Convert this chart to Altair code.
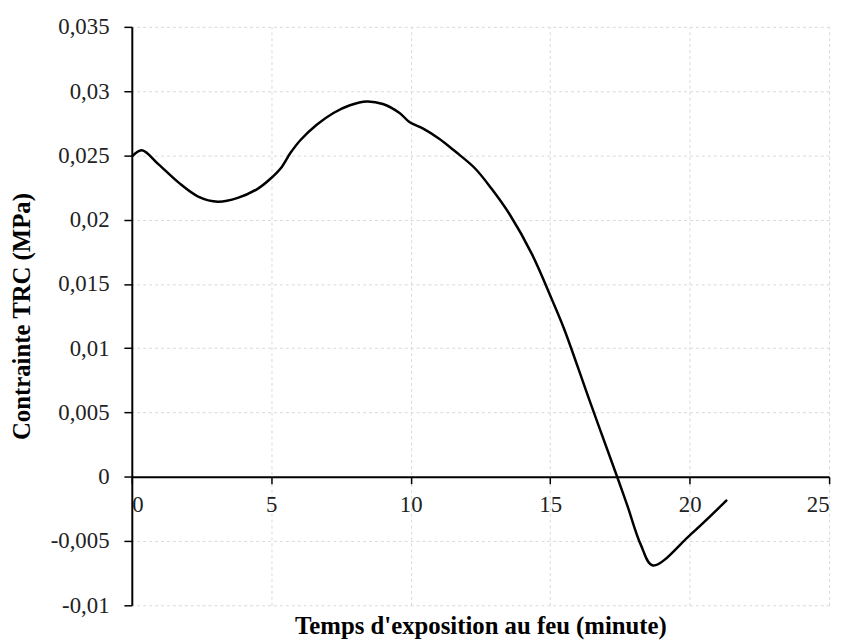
import altair as alt
import pandas as pd

t = [0.0, 0.36, 0.96, 1.67, 2.38, 3.09, 3.8, 4.51, 4.98, 5.34, 5.69, 6.05, 6.64, 7.23,
     7.82, 8.42, 9.0, 9.6, 9.95, 10.43, 11.02, 11.6, 12.3, 12.9, 13.55, 14.35, 15.06,
     15.5, 16.4, 17.4, 17.76, 18.25, 18.68, 20.03, 21.34]
stress = [0.0249, 0.0254, 0.0243, 0.0229, 0.0218, 0.0214, 0.0217, 0.0224, 0.0232, 0.0240,
          0.0252, 0.0262, 0.0274, 0.0283, 0.0289, 0.0292, 0.0290, 0.0283, 0.0276, 0.0271,
          0.0263, 0.0253, 0.0240, 0.0224, 0.0204, 0.0173, 0.0138, 0.0115, 0.0060, 0.0,
          -0.0022, -0.0053, -0.0069, -0.0045, -0.0018]

x_ticks = [0, 5, 10, 15, 20, 25]
y_ticks = [-0.01, -0.005, 0, 0.005, 0.01, 0.015, 0.02, 0.025, 0.03, 0.035]

df = pd.DataFrame({"t": t, "s": stress})

FONT = "Liberation Serif"
W, H = 704, 584
zero_off = H * 0.01 / 0.045  # distance from bottom to y=0

xscale = alt.Scale(domain=[0, 25], nice=False)
yscale = alt.Scale(domain=[-0.01, 0.035], nice=False)

grid = alt.Chart(df).mark_line(opacity=0).encode(
    x=alt.X("t:Q", scale=xscale,
            axis=alt.Axis(values=x_ticks, grid=True, labels=False, ticks=False,
                          domain=False, title=None, gridColor="#d9d9d9",
                          gridDash=[3, 3], gridWidth=1, orient="top")),
    y=alt.Y("s:Q", scale=yscale,
            axis=alt.Axis(values=y_ticks, grid=True, labels=False, ticks=False,
                          domain=False, title=None, gridColor="#d9d9d9",
                          gridDash=[3, 3], gridWidth=1, orient="right")),
)

line = alt.Chart(df).mark_line(color="black", strokeWidth=2.5, interpolate="catmull-rom").encode(
    x=alt.X("t:Q", scale=xscale,
            axis=alt.Axis(values=x_ticks, grid=False, offset=-zero_off,
                          title="Temps d'exposition au feu (minute)",
                          titleFont=FONT, titleFontSize=25, titleFontWeight="bold",
                          titleColor="black", titleY=zero_off + 20, titleBaseline="middle",
                          labelFont=FONT, labelFontSize=23, labelColor="#222",
                          labelPadding=10, tickSize=7, tickColor="black",
                          domainColor="black", domainWidth=2, tickWidth=1.5)),
    y=alt.Y("s:Q", scale=yscale,
            axis=alt.Axis(values=y_ticks, grid=False,
                          labelExpr="replace(toString(datum.value), '.', ',')",
                          title="Contrainte TRC (MPa)",
                          titleFont=FONT, titleFontSize=25, titleFontWeight="bold",
                          titleColor="black", titleAngle=-90, titleX=-111,
                          titleY=H / 2, titleBaseline="middle",
                          labelFont=FONT, labelFontSize=23, labelColor="#222",
                          labelPadding=15, tickSize=8, tickColor="black",
                          domainColor="black", domainWidth=2, tickWidth=1.5)),
)

chart = alt.layer(grid, line).resolve_axis(x="independent", y="independent").properties(
    width=W, height=H,
    autosize=alt.AutoSizeParams(type="none"),
    padding={"left": 125, "top": 16, "right": 12, "bottom": 33},
).configure_view(stroke=None)

chart.save("out.html", embed_options={"renderer": "svg", "actions": False})
